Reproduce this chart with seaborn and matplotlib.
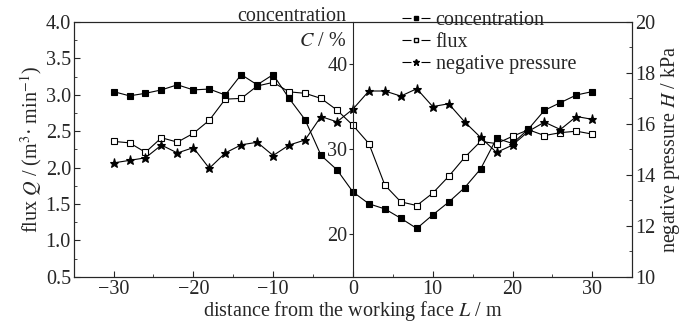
import matplotlib
matplotlib.use("Agg")
import matplotlib.pyplot as plt
from matplotlib.ticker import MultipleLocator, FormatStrFormatter
from matplotlib.lines import Line2D
import seaborn as sns

# ============================================================
# data
# ============================================================
distance = [-30, -28, -26, -24, -22, -20, -18, -16, -14, -12, -10, -8, -6, -4, -2, 0,
            2, 4, 6, 8, 10, 12, 14, 16, 18, 20, 22, 24, 26, 28, 30]

concentration = [36.8, 36.3, 36.6, 37.0, 37.6, 37.0, 37.1, 36.4, 38.8, 37.6, 38.8, 36.0,
                 33.5, 29.3, 27.6, 25.0,
                 23.6, 23.0, 21.9, 20.7, 22.3, 23.8, 25.5, 27.7, 31.3, 30.7, 32.4, 34.6,
                 35.5, 36.4, 36.8]

flux = [2.36, 2.34, 2.21, 2.41, 2.35, 2.47, 2.65, 2.94, 2.95, 3.12, 3.17, 3.04,
        3.02, 2.95, 2.79, 2.58,
        2.33, 1.76, 1.53, 1.48, 1.65, 1.88, 2.14, 2.36, 2.33, 2.43, 2.52, 2.44,
        2.48, 2.50, 2.46]

pressure = [14.47, 14.57, 14.67, 15.17, 14.86, 15.07, 14.26, 14.86, 15.18, 15.28, 14.76,
            15.17, 15.37, 16.29, 16.08, 16.58,
            17.29, 17.29, 17.09, 17.38, 16.68, 16.79, 16.08, 15.47, 14.88, 15.17, 15.71,
            16.07, 15.78, 16.29, 16.18]

labels = ["concentration", "flux", "negative pressure"]

# ============================================================
# style
# ============================================================
sns.set_style("ticks")
plt.rcParams["font.family"] = ["Liberation Serif", "DejaVu Serif"]
plt.rcParams["mathtext.fontset"] = "stix"
plt.rcParams["font.size"] = 14.5
plt.rcParams["axes.linewidth"] = 0.8

fig = plt.figure(figsize=(6.82, 3.22), dpi=100)
ax = fig.add_axes([0.108, 0.140, 0.819, 0.792])
ax_p = ax.twinx()
ax_c = ax.twinx()

line_kw = dict(color="black", linewidth=0.8, markeredgewidth=0.8, markeredgecolor="black")

sns.lineplot(x=distance, y=flux, ax=ax, marker="s", markersize=3.8,
             markerfacecolor="white", **line_kw)
sns.lineplot(x=distance, y=pressure, ax=ax_p, marker="*", markersize=6.5,
             markerfacecolor="black", **line_kw)
sns.lineplot(x=distance, y=concentration, ax=ax_c, marker="s", markersize=3.8,
             markerfacecolor="black", **line_kw)

# left axis: flux
ax.set_xlim(-35, 35)
ax.set_ylim(0.5, 4.0)
ax.xaxis.set_major_locator(MultipleLocator(10))
ax.xaxis.set_minor_locator(MultipleLocator(5))
ax.yaxis.set_major_locator(MultipleLocator(0.5))
ax.yaxis.set_minor_locator(MultipleLocator(0.25))
ax.yaxis.set_major_formatter(FormatStrFormatter("%.1f"))
ax.tick_params(which="both", direction="in", top=False, right=False, pad=2)
ax.tick_params(which="major", length=4)
ax.tick_params(which="minor", length=2)
ax.set_xlabel("distance from the working face $L$ / m", labelpad=0)
ax.set_ylabel("flux $Q$ / (m$^{3}$· min$^{-1}$)", labelpad=1)

# right axis: negative pressure
ax_p.set_ylim(10, 20)
ax_p.yaxis.set_major_locator(MultipleLocator(2))
ax_p.yaxis.set_minor_locator(MultipleLocator(1))
ax_p.tick_params(which="both", direction="in", pad=2)
ax_p.tick_params(which="major", length=4)
ax_p.tick_params(which="minor", length=2)
ax_p.set_ylabel("negative pressure $H$ / kPa", labelpad=3)

# middle axis: concentration, spine at x = 0
ax_c.set_ylim(15, 45)
for side in ("right", "top", "bottom"):
    ax_c.spines[side].set_visible(False)
ax_c.spines["left"].set_visible(True)
ax_c.spines["left"].set_position(("data", 0))
ax_c.yaxis.set_ticks_position("left")
ax_c.yaxis.set_label_position("left")
ax_c.set_yticks([20, 30, 40])
ax_c.tick_params(axis="y", direction="out", length=3, pad=1)
ax_c.set_ylabel("")
ax_c.text(-0.8, 46.75, "concentration\n$C$ / %", ha="right", va="top",
          multialignment="right", linespacing=1.45, clip_on=False)

# legend: short broken line with the marker in the gap
dash = (8.1, 9.0, 8.1, 9.0)
handles = [
    Line2D([], [], color="black", linewidth=0.8, linestyle=(0, dash), marker="s",
           markersize=3, markerfacecolor="black", markeredgecolor="black"),
    Line2D([], [], color="black", linewidth=0.8, linestyle=(0, dash), marker="s",
           markersize=3, markerfacecolor="white", markeredgecolor="black"),
    Line2D([], [], color="black", linewidth=0.8, linestyle=(0, dash), marker="*",
           markersize=5, markerfacecolor="black", markeredgecolor="black"),
]
fig.legend(handles, labels, loc="upper left", bbox_to_anchor=(0.59, 0.965),
           frameon=False, borderpad=0, borderaxespad=0, handlelength=1.4,
           handletextpad=0.25, labelspacing=0.13)

fig.savefig("out.png", dpi=100)
